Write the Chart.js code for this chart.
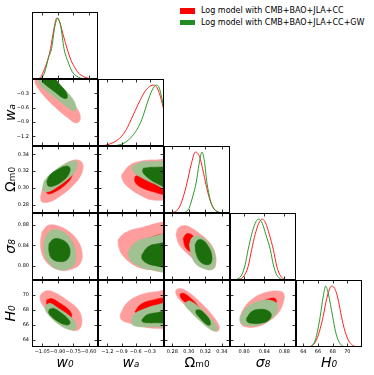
<!DOCTYPE html>
<html><head><meta charset="utf-8">
<script src="https://cdn.jsdelivr.net/npm/chart.js@4.4.1/dist/chart.umd.min.js"></script>
<style>
html,body{margin:0;padding:0;background:#fff;}
#wrap{position:relative;width:374px;height:375px;overflow:hidden;background:#fff;}
#wrap canvas{position:absolute;}
.lg{position:absolute;font-family:'DejaVu Sans';font-size:8px;line-height:10px;color:#000;white-space:nowrap;}
.sw{position:absolute;width:15px;height:5.5px;}
</style></head><body><div id="wrap">
<div class="sw" style="left:180px;top:8px;background:#ff0000"></div>
<div class="lg" style="left:201px;top:6px">Log model with CMB+BAO+JLA+CC</div>
<div class="sw" style="left:180px;top:19.5px;background:#228b22"></div>
<div class="lg" style="left:201px;top:17.5px">Log model with CMB+BAO+JLA+CC+GW</div>
</div>
<script>
// ---------------- axis ticks ----------------
const TICKS_W0 = [-1.05, -0.90, -0.75, -0.60];
const TICKS_WA = [-1.2, -0.9, -0.6, -0.3];
const TICKS_OM = [0.28, 0.30, 0.32, 0.34];
const TICKS_S8 = [0.80, 0.84, 0.88];
const TICKS_H0 = [64, 66, 68, 70];
const LIM_W0 = [-1.15, -0.51];
const LIM_WA = [-1.4, 0];
const LIM_OM = [0.27, 0.35];
const LIM_S8 = [0.772, 0.903];
const LIM_H0 = [63, 72];
const LABELS = ['w₀', 'wₐ', 'Ωₘ₀', 'σ₈', 'H₀'];
const SERIES = ['Log model with CMB+BAO+JLA+CC', 'Log model with CMB+BAO+JLA+CC+GW'];

// ---------------- 1D marginals [value, relative density] ----------------
const PDF_W0_RED = [[-1.12,0],[-1.07,0.02],[-1.04,0.12],[-1.0,0.3],[-0.97,0.5],[-0.94,0.8],[-0.91,1.0],[-0.88,0.93],[-0.85,0.74],[-0.81,0.5],[-0.77,0.3],[-0.74,0.2],[-0.70,0.1],[-0.65,0.04],[-0.60,0.01],[-0.56,0]];
const PDF_W0_GREEN = [[-1.08,0],[-1.05,0.03],[-1.02,0.15],[-0.99,0.35],[-0.96,0.5],[-0.93,0.85],[-0.90,1.0],[-0.87,0.85],[-0.84,0.5],[-0.80,0.28],[-0.76,0.12],[-0.72,0.05],[-0.68,0.015],[-0.64,0]];
const PDF_WA_RED = [[-1.4,0],[-1.3,0.005],[-1.2,0.02],[-1.1,0.05],[-1.0,0.09],[-0.9,0.16],[-0.8,0.27],[-0.7,0.43],[-0.6,0.6],[-0.5,0.76],[-0.4,0.9],[-0.3,0.98],[-0.21,1.0],[-0.15,0.96],[-0.08,0.82],[0.0,0.58]];
const PDF_WA_GREEN = [[-1.4,0],[-1.1,0],[-1.0,0.01],[-0.9,0.03],[-0.8,0.07],[-0.7,0.14],[-0.6,0.24],[-0.5,0.38],[-0.44,0.5],[-0.35,0.72],[-0.25,0.92],[-0.16,1.0],[-0.1,0.95],[-0.05,0.8],[0.0,0.6]];
const PDF_OM_RED = [[0.278,0],[0.283,0.02],[0.288,0.08],[0.293,0.25],[0.298,0.5],[0.303,0.8],[0.308,1.0],[0.313,0.93],[0.318,0.65],[0.322,0.4],[0.326,0.2],[0.330,0.08],[0.334,0.025],[0.338,0.005],[0.342,0]];
const PDF_OM_GREEN = [[0.293,0],[0.297,0.02],[0.301,0.1],[0.305,0.28],[0.309,0.5],[0.3125,0.8],[0.316,1.0],[0.319,0.85],[0.322,0.5],[0.326,0.22],[0.330,0.08],[0.334,0.03],[0.338,0.008],[0.342,0]];
const PDF_S8_RED = [[0.780,0],[0.790,0.01],[0.800,0.07],[0.808,0.22],[0.815,0.5],[0.822,0.75],[0.829,0.93],[0.836,1.0],[0.843,0.93],[0.850,0.75],[0.858,0.5],[0.865,0.22],[0.872,0.07],[0.880,0.015],[0.888,0]];
const PDF_S8_GREEN = [[0.775,0],[0.785,0.01],[0.795,0.08],[0.802,0.25],[0.808,0.5],[0.815,0.75],[0.822,0.93],[0.829,1.0],[0.836,0.93],[0.843,0.75],[0.852,0.5],[0.858,0.25],[0.865,0.08],[0.873,0.015],[0.882,0]];
const PDF_H0_RED = [[64.5,0],[65.2,0.02],[65.8,0.12],[66.3,0.3],[66.7,0.5],[67.2,0.8],[67.85,1.0],[68.4,0.93],[68.8,0.75],[69.2,0.5],[69.7,0.25],[70.2,0.1],[70.7,0.03],[71.3,0]];
const PDF_H0_GREEN = [[64.5,0],[65.1,0.02],[65.6,0.1],[66.0,0.3],[66.3,0.5],[66.7,0.82],[67.05,1.0],[67.4,0.88],[68.0,0.5],[68.4,0.25],[68.8,0.1],[69.2,0.03],[69.7,0]];

// ---------------- 2D contours [x, y] (outer = 95%, inner = 68%) ----------------
const C_W0_WA_RED_OUT = [[-1.11,0.05],[-0.995,0.05],[-0.878,-0.23],[-0.762,-0.48],[-0.694,-0.69],[-0.684,-0.857],[-0.723,-0.919],[-0.80,-0.815],[-0.917,-0.606],[-1.024,-0.376],[-1.092,-0.188],[-1.121,-0.063]];
const C_W0_WA_RED_IN = [[-1.072,0.05],[-0.956,0.05],[-0.859,-0.188],[-0.80,-0.355],[-0.81,-0.439],[-0.878,-0.376],[-0.975,-0.23],[-1.053,-0.104]];
const C_W0_WA_GRN_OUT = [[-1.092,0.05],[-0.956,0.05],[-0.859,-0.167],[-0.762,-0.397],[-0.723,-0.585],[-0.742,-0.669],[-0.82,-0.564],[-0.936,-0.376],[-1.033,-0.209],[-1.082,-0.084]];
const C_W0_WA_GRN_IN = [[-1.043,0.05],[-0.956,0.05],[-0.878,-0.125],[-0.82,-0.272],[-0.81,-0.397],[-0.849,-0.397],[-0.927,-0.272],[-1.004,-0.146],[-1.043,-0.063]];

const C_W0_OM_RED_OUT = [[-1.066,0.2895],[-1.04,0.3014],[-0.975,0.3133],[-0.878,0.3246],[-0.765,0.3324],[-0.684,0.3324],[-0.655,0.3253],[-0.684,0.3133],[-0.765,0.3014],[-0.862,0.2915],[-0.975,0.2835],[-1.056,0.2835]];
const C_W0_OM_RED_IN = [[-1.014,0.2954],[-0.992,0.3034],[-0.91,0.3133],[-0.813,0.3222],[-0.765,0.3222],[-0.765,0.3133],[-0.83,0.3034],[-0.927,0.2954],[-0.992,0.2927]];
const C_W0_OM_GRN_OUT = [[-1.046,0.3014],[-1.024,0.3094],[-0.943,0.3193],[-0.83,0.3285],[-0.733,0.3324],[-0.71,0.3293],[-0.733,0.3193],[-0.813,0.3094],[-0.91,0.3007],[-0.992,0.2954],[-1.04,0.2966]];
const C_W0_OM_GRN_IN = [[-1.007,0.3074],[-0.975,0.3154],[-0.895,0.3222],[-0.813,0.3261],[-0.781,0.3234],[-0.798,0.3154],[-0.862,0.3074],[-0.943,0.3022],[-0.992,0.3022]];

const C_W0_S8_RED_OUT = [[-1.053,0.8661],[-0.995,0.8787],[-0.898,0.8778],[-0.80,0.868],[-0.713,0.8506],[-0.665,0.8273],[-0.684,0.804],[-0.781,0.7923],[-0.898,0.7923],[-0.995,0.804],[-1.053,0.8234],[-1.067,0.8467]];
const C_W0_S8_RED_IN = [[-1.014,0.8506],[-0.956,0.8661],[-0.859,0.8642],[-0.781,0.8506],[-0.742,0.8312],[-0.781,0.8117],[-0.878,0.8059],[-0.975,0.8156],[-1.014,0.8312]];
const C_W0_S8_GRN_OUT = [[-1.033,0.8506],[-0.975,0.868],[-0.898,0.87],[-0.82,0.8622],[-0.762,0.8467],[-0.723,0.8234],[-0.742,0.802],[-0.82,0.7923],[-0.917,0.7943],[-0.995,0.8079],[-1.033,0.8273]];
const C_W0_S8_GRN_IN = [[-0.985,0.8428],[-0.936,0.8525],[-0.859,0.8506],[-0.80,0.8409],[-0.781,0.8253],[-0.81,0.8117],[-0.878,0.8079],[-0.956,0.8137],[-0.985,0.8273]];

const C_W0_H0_RED_OUT = [[-1.056,70.21],[-1.007,70.56],[-0.943,70.39],[-0.813,69.31],[-0.70,67.97],[-0.667,66.62],[-0.684,65.51],[-0.733,65.19],[-0.798,65.51],[-0.895,66.62],[-1.007,67.97],[-1.056,68.87],[-1.072,69.76]];
const C_W0_H0_RED_IN = [[-1.007,69.31],[-0.959,69.49],[-0.878,68.87],[-0.798,68.06],[-0.765,67.30],[-0.781,66.85],[-0.846,67.07],[-0.946,67.83],[-1.004,68.64]];
const C_W0_H0_GRN_OUT = [[-1.014,68.64],[-0.975,68.87],[-0.895,68.20],[-0.798,67.30],[-0.733,66.40],[-0.723,65.51],[-0.765,65.28],[-0.846,65.64],[-0.943,66.62],[-1.001,67.52],[-1.024,68.20]];
const C_W0_H0_GRN_IN = [[-0.982,68.06],[-0.943,68.20],[-0.862,67.52],[-0.798,66.72],[-0.781,66.18],[-0.813,65.95],[-0.895,66.40],[-0.959,67.07],[-0.988,67.60]];

const C_WA_OM_RED_OUT = [[-0.90,0.3154],[-0.721,0.3273],[-0.439,0.3324],[-0.155,0.3333],[0.08,0.3324],[0.08,0.2895],[-0.227,0.2855],[-0.509,0.2915],[-0.771,0.3014],[-0.880,0.3094]];
const C_WA_OM_RED_IN = [[-0.615,0.3133],[-0.439,0.3174],[0.08,0.3174],[0.08,0.2935],[-0.227,0.2954],[-0.509,0.3014],[-0.615,0.3074]];
const C_WA_OM_GRN_OUT = [[-0.685,0.3253],[-0.509,0.3301],[-0.227,0.3313],[0.08,0.3293],[0.08,0.2995],[-0.227,0.3055],[-0.509,0.3133],[-0.651,0.3193]];
const C_WA_OM_GRN_IN = [[-0.439,0.3234],[-0.227,0.3246],[0.08,0.3222],[0.08,0.3014],[-0.155,0.3055],[-0.367,0.3133],[-0.452,0.3193]];

const C_WA_S8_RED_OUT = [[-0.976,0.8506],[-0.827,0.8642],[-0.509,0.8739],[0.08,0.8797],[0.08,0.7923],[-0.297,0.7923],[-0.615,0.8001],[-0.870,0.8195],[-0.955,0.835]];
const C_WA_S8_RED_IN = [[-0.658,0.8312],[-0.403,0.8506],[0.08,0.8583],[0.08,0.7962],[-0.297,0.8001],[-0.551,0.8117]];
const C_WA_S8_GRN_OUT = [[-0.764,0.8273],[-0.615,0.8447],[-0.339,0.8545],[0.08,0.8583],[0.08,0.7923],[-0.297,0.7923],[-0.551,0.8001],[-0.721,0.8117]];
const C_WA_S8_GRN_IN = [[-0.467,0.8214],[-0.339,0.837],[-0.127,0.8428],[0.08,0.8428],[0.08,0.8001],[-0.191,0.8001],[-0.382,0.8059],[-0.467,0.8137]];

const C_WA_H0_RED_OUT = [[-0.933,67.30],[-0.791,68.87],[-0.509,69.98],[-0.155,70.43],[0.08,70.43],[0.08,65.72],[-0.155,65.51],[-0.439,65.72],[-0.721,66.18],[-0.897,66.62]];
const C_WA_H0_RED_IN = [[-0.615,67.74],[-0.509,68.64],[-0.297,69.22],[0.08,69.41],[0.08,67.30],[-0.297,67.30],[-0.545,67.30]];
const C_WA_H0_GRN_OUT = [[-0.685,66.40],[-0.651,67.30],[-0.439,68.06],[-0.155,68.64],[0.08,68.77],[0.08,65.95],[-0.227,65.72],[-0.509,65.72],[-0.664,65.95]];
const C_WA_H0_GRN_IN = [[-0.473,66.62],[-0.367,67.30],[-0.155,67.60],[0.08,67.74],[0.08,66.40],[-0.155,66.26],[-0.367,66.26],[-0.452,66.35]];

const C_OM_S8_RED_OUT = [[0.2845,0.8603],[0.2873,0.8733],[0.2934,0.8783],[0.3015,0.8752],[0.3136,0.8622],[0.3258,0.8442],[0.3318,0.8247],[0.333,0.8053],[0.3298,0.7937],[0.3218,0.7956],[0.3096,0.8084],[0.2975,0.8247],[0.2885,0.8409]];
const C_OM_S8_RED_IN = [[0.2934,0.8539],[0.2975,0.8622],[0.3036,0.8603],[0.3100,0.8480],[0.3150,0.8330],[0.3120,0.8220],[0.3015,0.8279],[0.2955,0.8376]];
const C_OM_S8_GRN_OUT = [[0.3007,0.8409],[0.3036,0.8539],[0.3096,0.8583],[0.3176,0.8539],[0.3258,0.8409],[0.3318,0.8214],[0.3318,0.802],[0.3278,0.7923],[0.3197,0.7937],[0.3096,0.802],[0.3036,0.8181]];
const C_OM_S8_GRN_IN = [[0.3076,0.8409],[0.3116,0.8506],[0.3176,0.8492],[0.3237,0.8376],[0.3278,0.8214],[0.327,0.8053],[0.3218,0.802],[0.3136,0.8084],[0.3088,0.8247]];

const C_OM_H0_RED_OUT = [[0.2845,70.66],[0.2894,70.86],[0.2991,70.39],[0.3136,69.04],[0.3282,67.30],[0.3367,65.82],[0.3355,65.15],[0.3282,65.28],[0.3136,66.62],[0.2991,68.24],[0.2894,69.31],[0.2845,70.12]];
const C_OM_H0_RED_IN = [[0.2894,70.12],[0.2942,70.2],[0.3039,69.4],[0.312,68.4],[0.318,67.5],[0.317,67.1],[0.310,67.7],[0.2967,68.91],[0.2906,69.58]];
const C_OM_H0_GRN_OUT = [[0.2967,69.04],[0.3015,69.18],[0.3136,68.24],[0.3258,66.89],[0.3342,65.68],[0.333,65.15],[0.3258,65.41],[0.3112,66.75],[0.3003,67.97],[0.2955,68.64]];
const C_OM_H0_GRN_IN = [[0.3088,67.97],[0.3136,67.97],[0.3209,67.30],[0.3258,66.49],[0.3258,65.95],[0.3209,66.09],[0.3136,66.89],[0.3088,67.56]];

const C_S8_H0_RED_OUT = [[0.7917,67.07],[0.8015,68.41],[0.8212,69.67],[0.8442,70.35],[0.8671,70.52],[0.8783,70.21],[0.8783,69.08],[0.8671,67.52],[0.8474,66.40],[0.8246,65.72],[0.8015,65.72],[0.7931,66.18]];
const C_S8_H0_RED_IN = [[0.806,67.6],[0.82,68.6],[0.8474,69.41],[0.8606,69.54],[0.8639,69.08],[0.8572,68.41],[0.84,67.4],[0.82,66.7],[0.806,66.8]];
const C_S8_H0_GRN_OUT = [[0.7917,66.85],[0.8015,68.06],[0.8212,68.95],[0.8442,69.31],[0.8606,69.08],[0.8671,68.41],[0.8606,67.30],[0.8442,66.40],[0.8212,65.86],[0.8015,65.95],[0.7931,66.31]];
const C_S8_H0_GRN_IN = [[0.8049,66.85],[0.8147,67.74],[0.8311,68.06],[0.8474,67.87],[0.8541,67.30],[0.8474,66.53],[0.8311,66.18],[0.8147,66.18],[0.8061,66.40]];

// ---------------- styles ----------------
const COL_RED_LINE = '#ff2020';
const COL_GRN_LINE = '#2a9a2a';
const COL_RED_OUT = '#ff9c9c';
const COL_RED_IN = '#ff0000';
const COL_GRN_OUT = '#a2c192';
const COL_GRN_IN = '#1d6e0c';

// ---------------- tables built from the arrays ----------------
const AXES = [
  {lim: LIM_W0, ticks: TICKS_W0, dec: 2, label: LABELS[0], italic: true},
  {lim: LIM_WA, ticks: TICKS_WA, dec: 1, label: LABELS[1], italic: true},
  {lim: LIM_OM, ticks: TICKS_OM, dec: 2, label: LABELS[2], italic: false},
  {lim: LIM_S8, ticks: TICKS_S8, dec: 2, label: LABELS[3], italic: true},
  {lim: LIM_H0, ticks: TICKS_H0, dec: 0, label: LABELS[4], italic: true}
];
const PDFS = [
  [PDF_W0_RED, PDF_W0_GREEN], [PDF_WA_RED, PDF_WA_GREEN], [PDF_OM_RED, PDF_OM_GREEN],
  [PDF_S8_RED, PDF_S8_GREEN], [PDF_H0_RED, PDF_H0_GREEN]
];
const CONT = {
  '1,0': [C_W0_WA_RED_OUT, C_W0_WA_RED_IN, C_W0_WA_GRN_OUT, C_W0_WA_GRN_IN],
  '2,0': [C_W0_OM_RED_OUT, C_W0_OM_RED_IN, C_W0_OM_GRN_OUT, C_W0_OM_GRN_IN],
  '3,0': [C_W0_S8_RED_OUT, C_W0_S8_RED_IN, C_W0_S8_GRN_OUT, C_W0_S8_GRN_IN],
  '4,0': [C_W0_H0_RED_OUT, C_W0_H0_RED_IN, C_W0_H0_GRN_OUT, C_W0_H0_GRN_IN],
  '2,1': [C_WA_OM_RED_OUT, C_WA_OM_RED_IN, C_WA_OM_GRN_OUT, C_WA_OM_GRN_IN],
  '3,1': [C_WA_S8_RED_OUT, C_WA_S8_RED_IN, C_WA_S8_GRN_OUT, C_WA_S8_GRN_IN],
  '4,1': [C_WA_H0_RED_OUT, C_WA_H0_RED_IN, C_WA_H0_GRN_OUT, C_WA_H0_GRN_IN],
  '3,2': [C_OM_S8_RED_OUT, C_OM_S8_RED_IN, C_OM_S8_GRN_OUT, C_OM_S8_GRN_IN],
  '4,2': [C_OM_H0_RED_OUT, C_OM_H0_RED_IN, C_OM_H0_GRN_OUT, C_OM_H0_GRN_IN],
  '4,3': [C_S8_H0_RED_OUT, C_S8_H0_RED_IN, C_S8_H0_GRN_OUT, C_S8_H0_GRN_IN]
};

// ---------------- layout ----------------
const COLX = [32, 98, 164, 230, 296];
const ROWY = [12, 79, 146, 213, 280];
const PW = 66, PH = 67, LEFTW = 32, BOTH = 28;

const fmt = (v, dec) => v.toFixed(dec).replace('-', '\u2212');

const framePlugin = {
  id: 'frame',
  afterDraw(chart, args, opts) {
    const {ctx, chartArea: a} = chart;
    const xs = chart.scales.x, ys = chart.scales.y;
    ctx.save();
    ctx.strokeStyle = '#000';
    ctx.lineWidth = 0.8;
    const L = 3.5;
    ctx.beginPath();
    for (const v of opts.xt) {
      const p = Math.round(xs.getPixelForValue(v)) + 0.5;
      ctx.moveTo(p, a.top); ctx.lineTo(p, a.top + L);
      ctx.moveTo(p, a.bottom); ctx.lineTo(p, a.bottom - L);
    }
    if (opts.yt) for (const v of opts.yt) {
      const p = Math.round(ys.getPixelForValue(v)) + 0.5;
      ctx.moveTo(a.left, p); ctx.lineTo(a.left + L, p);
      ctx.moveTo(a.right, p); ctx.lineTo(a.right - L, p);
    }
    ctx.stroke();
    ctx.lineWidth = 1;
    ctx.strokeRect(a.left + 0.5, a.top + 0.5, a.right - a.left - 1, a.bottom - a.top - 1);
    ctx.restore();
  }
};

function scaleCfg(ax, show, pos, fixed) {
  return {
    type: 'linear', min: ax.lim[0], max: ax.lim[1], position: pos, display: show,
    grid: {display: false, drawTicks: false}, border: {display: false},
    ticks: {color: '#000', font: {family: 'DejaVu Sans', size: 5}, padding: pos === 'left' ? 3 : 2,
            maxRotation: 0, autoSkip: false, callback: (v) => fmt(v, ax.dec)},
    title: {display: show, text: ax.label, color: '#000',
            font: {family: 'DejaVu Sans', size: 14, style: ax.italic ? 'italic' : 'normal'},
            padding: pos === 'left' ? {top: 3, bottom: 0} : {top: 0, bottom: 3}},
    afterBuildTicks: (s) => { s.ticks = ax.ticks.map(v => ({value: v})); },
    afterFit: (s) => {
      const size = show ? fixed : 0;
      if (pos === 'left') s.width = size; else s.height = size;
      s.paddingLeft = 0; s.paddingRight = 0; s.paddingTop = 0; s.paddingBottom = 0;
    }
  };
}

function lineDS(pts, color, order) {
  return {label: '', data: pts.map(p => ({x: p[0], y: p[1]})), showLine: true, fill: false,
          borderColor: color, borderWidth: 1, pointRadius: 0, cubicInterpolationMode: 'monotone',
          order, clip: 0};
}
function contourDS(pts, color, order) {
  const data = pts.map(p => ({x: p[0], y: p[1]}));
  data.push({x: pts[0][0], y: pts[0][1]});
  return {label: '', data, showLine: true, fill: 'shape', backgroundColor: color,
          borderColor: color, borderWidth: 0.6, pointRadius: 0, tension: 0.4,
          capBezierPoints: false, order, clip: 0};
}

const wrap = document.getElementById('wrap');
for (let r = 0; r < 5; r++) {
  for (let c = 0; c <= r; c++) {
    const hasY = c === 0 && r > 0;
    const hasX = r === 4;
    const left = COLX[c] - (hasY ? LEFTW : 0);
    const top = ROWY[r];
    const w = PW + (hasY ? LEFTW : 0);
    const h = PH + (hasX ? BOTH : 0);
    const cv = document.createElement('canvas');
    cv.width = w; cv.height = h;
    cv.style.left = left + 'px'; cv.style.top = top + 'px';
    cv.style.width = w + 'px'; cv.style.height = h + 'px';
    wrap.appendChild(cv);

    let datasets, yScale, yt;
    if (r === c) {
      datasets = [lineDS(PDFS[c][0], COL_RED_LINE, 2), lineDS(PDFS[c][1], COL_GRN_LINE, 1)];
      yScale = {type: 'linear', min: 0, max: 1.1, display: false,
                afterFit: (s) => { s.width = 0; }};
      yt = null;
    } else {
      const cs = CONT[r + ',' + c];
      datasets = [contourDS(cs[0], COL_RED_OUT, 4), contourDS(cs[1], COL_RED_IN, 3),
                  contourDS(cs[2], COL_GRN_OUT, 2), contourDS(cs[3], COL_GRN_IN, 1)];
      yScale = scaleCfg(AXES[r], hasY, 'left', LEFTW);
      yt = AXES[r].ticks;
    }
    new Chart(cv, {
      type: 'scatter',
      data: {datasets},
      options: {
        responsive: false, maintainAspectRatio: false, animation: false, devicePixelRatio: 1,
        layout: {padding: 0},
        events: [],
        plugins: {legend: {display: false}, tooltip: {enabled: false}, frame: {xt: AXES[c].ticks, yt}},
        scales: {x: scaleCfg(AXES[c], hasX, 'bottom', BOTH), y: yScale}
      },
      plugins: [framePlugin]
    });
  }
}
</script>
</body></html>
